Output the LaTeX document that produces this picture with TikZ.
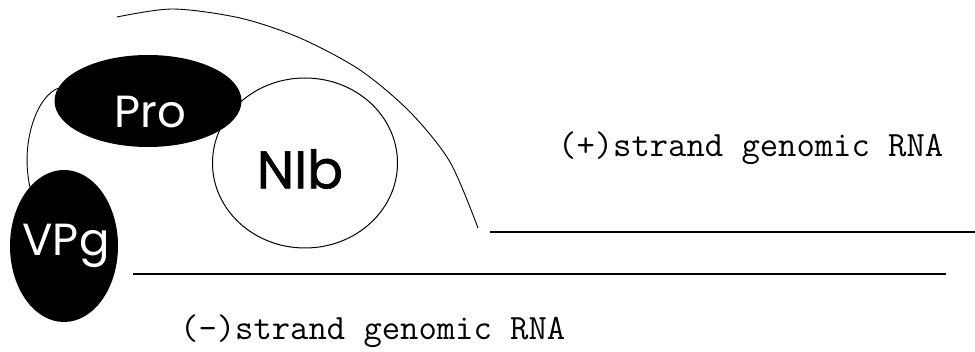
\documentclass[tikz,border=0pt]{standalone}
\usepackage{fontspec}
\setmainfont{Poppins}
\newfontfamily\nibfont[FakeBold=1.2]{Poppins}
\usetikzlibrary{shapes.geometric}
\tikzset{
  blob/.style={ellipse, fill=black, text=white, inner sep=0pt},
  ring/.style={ellipse, draw=black, line width=1pt, fill=white, inner sep=0pt},
  strand/.style={line width=1.3pt},
  thinline/.style={line width=0.9pt},
  strandlabel/.style={anchor=base west, inner sep=0pt, font=\ttfamily\fontsize{35.6}{40}\selectfont}
}
\begin{document}
\begin{tikzpicture}[x=1pt,y=-1pt]
\useasboundingbox (0,0) rectangle (975,352);
% NIb behind Pro
\node[ring, minimum width=185pt, minimum height=170pt] (nib) at (305,163) {};
\node[font=\nibfont\fontsize{53}{60}\selectfont] (nibtext) at (300,169) {NIb};
\node[blob, minimum width=187pt, minimum height=92pt] (pro) at (148,101) {};
\node[text=white, font=\fontsize{45}{54}\selectfont] (protext) at (150,112) {Pro};
\node[blob, minimum width=108pt, minimum height=152pt] (vpg) at (64,246) {};
\node[text=white, font=\fontsize{45}{54}\selectfont] (vpgtext) at (66,246) {VPg};
% tether from Pro to VPg
\draw[thinline] (pro.172) .. controls (38,96) and (20,140) .. (vpg.120);
% outer arc
\coordinate (arcstart) at (117,17);
\coordinate (arcend) at (478,228);
\draw[thinline] plot[smooth] coordinates {(arcstart) (173,9) (240,18) (300,38) (360,70) (410,112) (450,162) (arcend)};
% strands
\coordinate (plusA) at (490,232);
\coordinate (plusB) at (975,232);
\coordinate (minusA) at (133,274);
\coordinate (minusB) at (946,274);
\draw[strand] (plusA) -- (plusB);
\draw[strand] (minusA) -- (minusB);
\node[strandlabel] (plus) at (558,157) {(+)strand genomic RNA};
\node[strandlabel] (minus) at (180,340) {(-)strand genomic RNA};
\end{tikzpicture}
\end{document}
